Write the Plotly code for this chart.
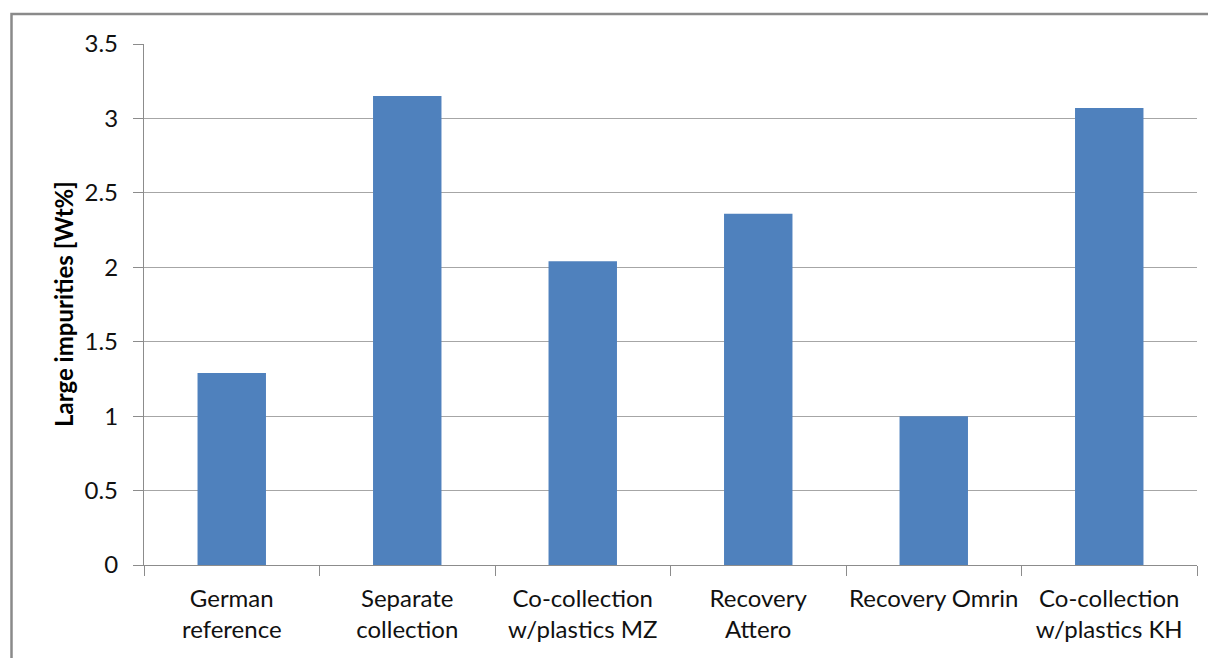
import plotly.graph_objects as go

categories = ["German<br>reference", "Separate<br>collection", "Co-collection<br>w/plastics MZ",
              "Recovery<br>Attero", "Recovery Omrin", "Co-collection<br>w/plastics KH"]
values = [1.29, 3.15, 2.04, 2.36, 1.0, 3.07]
y_ticks = [0, 0.5, 1, 1.5, 2, 2.5, 3, 3.5]
y_tick_labels = ["0", "0.5", "1", "1.5", "2", "2.5", "3", "3.5"]

# page has an 8px body margin; target page coordinates: plot area x 144..1197, y 44..565
OFF = 8
W, H = 1216 - OFF, 658 - OFF
L, T = 144 - OFF, 44 - OFF
R = (W + OFF) - 1197
B = (H + OFF) - 565
pw, ph = W - L - R, H - T - B

fig = go.Figure(go.Bar(x=categories, y=values, marker=dict(color="#4F81BD", line=dict(width=0)),
                       width=0.39))

font = "Lato, 'Open Sans', sans-serif"
fig.update_layout(
    width=W, height=H,
    margin=dict(l=L, r=R, t=T, b=B, pad=0, autoexpand=False),
    plot_bgcolor="white", paper_bgcolor="white",
    showlegend=False,
    font=dict(family=font, size=24, color="#111111"),
    xaxis=dict(showline=True, linecolor="#8c8c8c", linewidth=1.3,
               ticks="outside", ticklen=10, tickcolor="#8c8c8c", tickwidth=1.3,
               tickson="boundaries", showgrid=False, tickangle=0, automargin=False,
               ticklabelstandoff=12,
               tickfont=dict(size=24, family=font, color="#111111")),
    yaxis=dict(range=[0, 3.5], tickvals=y_ticks, ticktext=y_tick_labels,
               showline=True, linecolor="#8c8c8c", linewidth=1.3,
               ticks="outside", ticklen=10, tickcolor="#8c8c8c", tickwidth=1.3,
               showgrid=True, gridcolor="#a6a6a6", gridwidth=1.2, zeroline=False,
               automargin=False, ticklabelstandoff=10,
               tickfont=dict(size=24, family=font, color="#111111")),
    bargap=0.61,
)

fig.add_annotation(text="<b>Large impurities [Wt%]</b>", textangle=-90,
                   xref="paper", yref="paper",
                   x=(63 - 144) / pw, y=(565 - 304) / ph,
                   xanchor="center", yanchor="middle", showarrow=False,
                   font=dict(size=24, family=font, color="#000000"))

fig.add_shape(type="rect", xref="paper", yref="paper",
              x0=(11.5 - 144) / pw, x1=(1216 + 20 - 144) / pw,
              y0=-(B + 20) / ph, y1=(565 - 14) / ph,
              line=dict(color="#8a8a8a", width=2.5), fillcolor="rgba(0,0,0,0)", layer="below")

fig.write_html("out.html")
